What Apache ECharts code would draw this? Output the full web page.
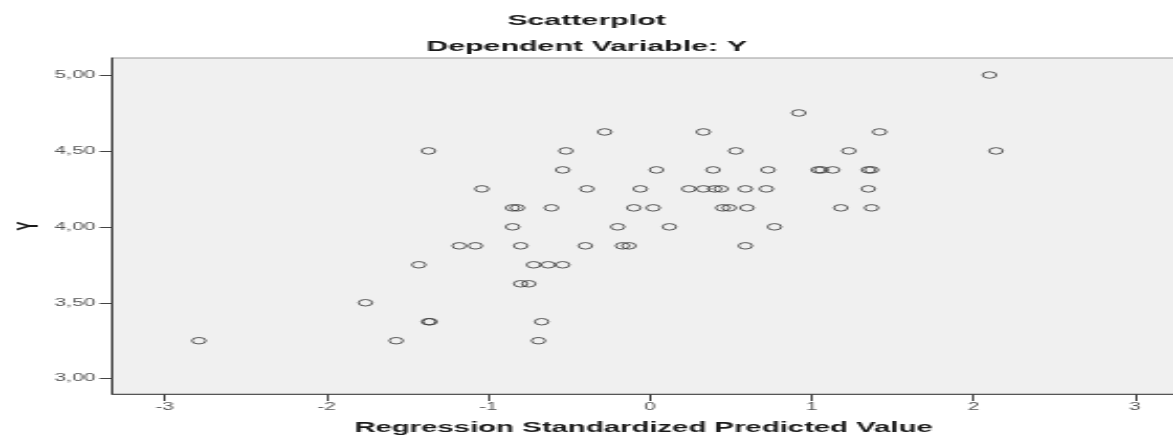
<!DOCTYPE html>
<html>
<head>
<meta charset="utf-8">
<script src="https://cdn.jsdelivr.net/npm/echarts@6/dist/echarts.min.js"></script>
<style>
  html, body { margin: 0; padding: 0; background: #fff; overflow: hidden; }
  /* the source picture is an SPSS plot stretched sideways, so draw it narrow and widen it */
  #main { width: 560px; height: 437px; transform: scaleX(2.094643); transform-origin: 0 0; }
</style>
</head>
<body>
<div id="main"></div>
<script>
// regression standardized predicted value (x) and Y (y), one pair per case
var predicted = [
    -2.79, -1.76, -1.57, -1.37, -1.36, -1.43, -1.37, -1.18, -1.08, -1.04,
    -0.85, -0.85, -0.82, -0.80, -0.80, -0.75, -0.72, -0.63, -0.54, -0.69,
    -0.67, -0.61, -0.54, -0.52, -0.40, -0.39, -0.28, -0.20, -0.17, -0.13,
    -0.10, -0.06, 0.02, 0.04, 0.12, 0.24, 0.33, 0.40, 0.44, 0.33,
    0.39, 0.45, 0.49, 0.53, 0.59, 0.59, 0.60, 0.72, 0.73, 0.77,
    0.92, 1.04, 1.06, 1.13, 1.18, 1.23, 1.35, 1.37, 1.35, 1.37,
    1.42, 2.10, 2.14
];
var yValues = [
    3.25, 3.50, 3.25, 3.375, 3.375, 3.75, 4.50, 3.875, 3.875, 4.25,
    4.00, 4.125, 4.125, 3.875, 3.625, 3.625, 3.75, 3.75, 3.75, 3.25,
    3.375, 4.125, 4.375, 4.50, 3.875, 4.25, 4.625, 4.00, 3.875, 3.875,
    4.125, 4.25, 4.125, 4.375, 4.00, 4.25, 4.25, 4.25, 4.25, 4.625,
    4.375, 4.125, 4.125, 4.50, 3.875, 4.25, 4.125, 4.25, 4.375, 4.00,
    4.75, 4.375, 4.375, 4.375, 4.125, 4.50, 4.375, 4.375, 4.25, 4.125,
    4.625, 5.00, 4.50
];
var xTicks = [-3, -2, -1, 0, 1, 2, 3];
var yTicks = [3.00, 3.50, 4.00, 4.50, 5.00];

var points = [];
for (var i = 0; i < predicted.length; i++) {
    points.push([predicted[i], yValues[i]]);
}

var chart = echarts.init(document.getElementById('main'));

var titleFont = {
    fontFamily: 'Liberation Sans',
    fontWeight: 'bold',
    fontSize: 14.5,
    color: '#1a1a1a'
};

chart.setOption({
    animation: false,
    title: [{
        text: 'Scatterplot',
        left: 'center',
        top: 13,
        padding: 0,
        textStyle: titleFont
    }, {
        text: 'Dependent Variable: Y',
        left: 'center',
        top: 39,
        padding: 0,
        textStyle: titleFont
    }],
    grid: {
        left: 53.5,
        right: -1,
        top: 58,
        bottom: 43,
        outerBoundsMode: 'none',
        containLabel: false,
        show: true,
        backgroundColor: '#f0f0f0',
        borderColor: '#9a9a9a',
        borderWidth: 1
    },
    xAxis: {
        type: 'value',
        min: -3.327,
        max: 3.248,
        name: 'Regression Standardized Predicted Value',
        nameLocation: 'middle',
        nameGap: 27,
        nameMoveOverlap: false,
        nameTextStyle: {
            fontFamily: 'Liberation Sans',
            fontWeight: 'bold',
            fontSize: 14,
            color: '#1a1a1a'
        },
        splitLine: { show: false },
        axisLine: { onZero: false, lineStyle: { color: '#555', width: 1 } },
        axisTick: {
            customValues: xTicks,
            length: 7,
            lineStyle: { color: '#444', width: 1 }
        },
        axisLabel: {
            customValues: xTicks,
            margin: 8,
            fontFamily: 'Liberation Sans',
            fontSize: 10,
            color: '#555'
        }
    },
    yAxis: {
        type: 'value',
        min: 2.899,
        max: 5.112,
        name: 'Y',
        nameLocation: 'middle',
        nameGap: 32,
        nameMoveOverlap: false,
        nameTextStyle: {
            fontFamily: 'Liberation Sans',
            fontWeight: 'bold',
            fontSize: 14,
            color: '#1a1a1a'
        },
        splitLine: { show: false },
        axisLine: { show: true, onZero: false, lineStyle: { color: '#333', width: 1 } },
        axisTick: {
            show: true,
            customValues: yTicks,
            length: 6,
            lineStyle: { color: '#444', width: 1 }
        },
        axisLabel: {
            customValues: yTicks,
            margin: 8,
            fontFamily: 'Liberation Sans',
            fontSize: 10,
            color: '#555',
            formatter: function (v) {
                return v.toFixed(2).replace('.', ',');
            }
        }
    },
    series: [{
        type: 'scatter',
        data: points,
        symbol: 'circle',
        symbolSize: 6.5,
        itemStyle: {
            color: 'rgba(0,0,0,0)',
            borderColor: '#333',
            borderWidth: 1
        }
    }]
});
</script>
</body>
</html>
